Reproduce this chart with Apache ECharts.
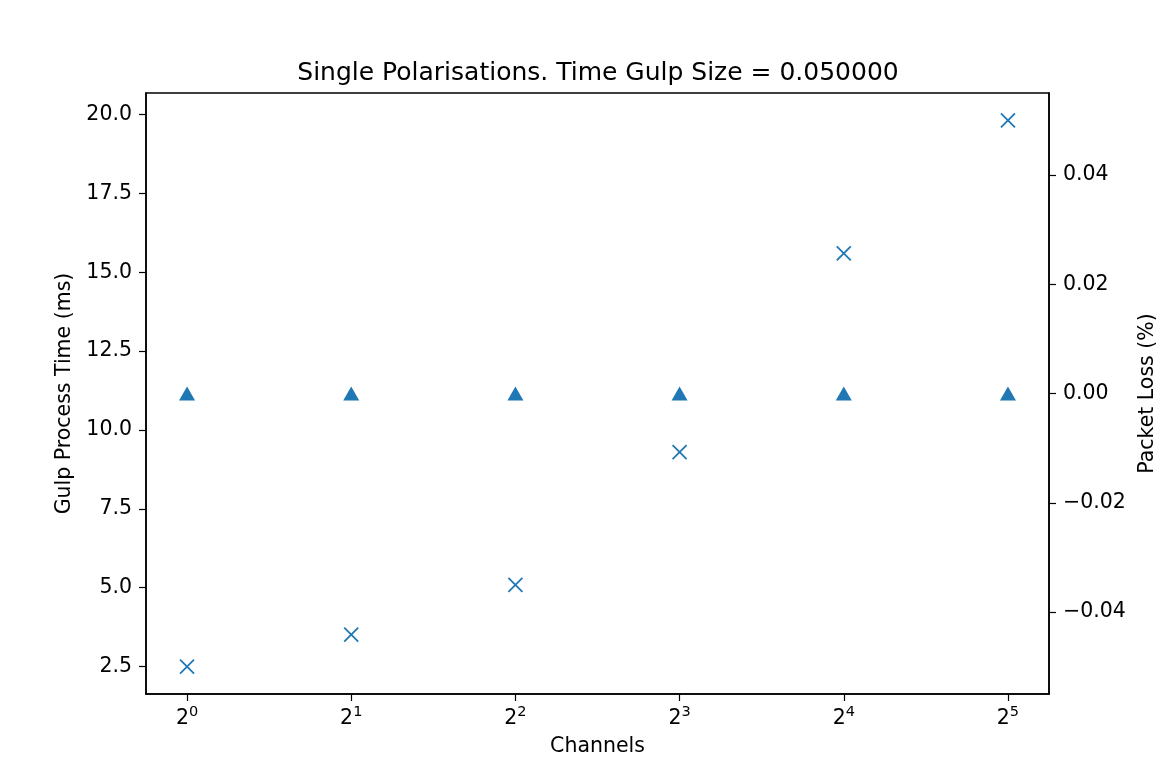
<!DOCTYPE html>
<html>
<head>
<meta charset="utf-8">
<script src="https://cdn.jsdelivr.net/npm/echarts@6/dist/echarts.min.js"></script>
<style>
  html, body { margin: 0; padding: 0; background: #fff; }
  #chart { width: 1167px; height: 782px; }
</style>
</head>
<body>
<div id="chart"></div>
<script>
// 数据
const channels = [1, 2, 4, 8, 16, 32]
const gulpTime = [2.5, 3.51, 5.09, 9.3, 15.6, 19.81]
const packetLoss = [0, 0, 0, 0, 0, 0]
const xTicks = [0, 1, 2, 3, 4, 5] // 2^n
const leftTicks = [2.5, 5, 7.5, 10, 12.5, 15, 17.5, 20]
const rightTicks = [-0.04, -0.02, 0, 0.02, 0.04]

const blue = '#1f77b4'
const font = 'DejaVu Sans'
const fs = 20.5

const chart = echarts.init(document.getElementById('chart'))
chart.setOption({
  animation: false,
  backgroundColor: '#fff',
  textStyle: { fontFamily: font },
  title: {
    text: 'Single Polarisations. Time Gulp Size = 0.050000',
    left: 593,
    top: 56,
    textAlign: 'center',
    textStyle: { fontFamily: font, fontSize: 25, fontWeight: 'normal', color: '#000' }
  },
  grid: {
    left: 146, right: 118, top: 93, bottom: 88,
    show: true, borderColor: '#000', borderWidth: 1.5, backgroundColor: 'transparent'
  },
  xAxis: {
    type: 'value',
    min: -0.25,
    max: 5.25,
    name: 'Channels',
    nameLocation: 'middle',
    nameGap: 42,
    nameTextStyle: { fontFamily: font, fontSize: fs, color: '#000' },
    splitLine: { show: false },
    axisLine: { show: true, onZero: false, lineStyle: { color: '#000', width: 1.5 } },
    axisTick: { show: true, inside: false, length: 7, lineStyle: { color: '#000', width: 1.2 }, customValues: xTicks },
    axisLabel: {
      customValues: xTicks,
      margin: 11,
      color: '#000',
      formatter: v => '{b|2}{s|' + v + '}',
      rich: {
        b: { fontFamily: font, fontSize: fs, color: '#000', verticalAlign: 'bottom', lineHeight: 24 },
        s: { fontFamily: font, fontSize: 14.5, color: '#000', verticalAlign: 'top', lineHeight: 16 }
      }
    }
  },
  yAxis: [
    {
      type: 'value',
      min: 1.63,
      max: 20.68,
      name: 'Gulp Process Time (ms)',
      nameLocation: 'middle',
      nameGap: 71,
      nameTextStyle: { fontFamily: font, fontSize: fs, color: '#000' },
      splitLine: { show: false },
      axisLine: { show: true, onZero: false, lineStyle: { color: '#000', width: 1.5 } },
      axisTick: { show: true, inside: false, length: 7, lineStyle: { color: '#000', width: 1.2 }, customValues: leftTicks },
      axisLabel: {
        customValues: leftTicks,
        margin: 14,
        fontFamily: font,
        fontSize: fs,
        color: '#000',
        formatter: v => v.toFixed(1)
      }
    },
    {
      type: 'value',
      position: 'right',
      min: -0.055,
      max: 0.055,
      name: 'Packet Loss (%)',
      nameLocation: 'middle',
      nameGap: 85,
      nameTextStyle: { fontFamily: font, fontSize: fs, color: '#000' },
      splitLine: { show: false },
      axisLine: { show: true, onZero: false, lineStyle: { color: '#000', width: 1.5 } },
      axisTick: { show: true, inside: false, length: 7, lineStyle: { color: '#000', width: 1.2 }, customValues: rightTicks },
      axisLabel: {
        customValues: rightTicks,
        margin: 14,
        fontFamily: font,
        fontSize: fs,
        color: '#000',
        formatter: v => v.toFixed(2).replace('-', '\u2212')
      }
    }
  ],
  series: [
    {
      name: 'Gulp Process Time',
      type: 'scatter',
      yAxisIndex: 0,
      symbol: 'path://M0,0L10,10M10,0L0,10',
      symbolSize: 14,
      itemStyle: { color: 'none', borderColor: blue, borderWidth: 1.8, opacity: 1 },
      data: channels.map((c, i) => [Math.log2(c), gulpTime[i]])
    },
    {
      name: 'Packet Loss',
      type: 'scatter',
      yAxisIndex: 1,
      symbol: 'triangle',
      symbolSize: [16, 14],
      itemStyle: { color: blue, opacity: 1 },
      data: channels.map((c, i) => [Math.log2(c), packetLoss[i]])
    }
  ]
})
</script>
</body>
</html>
